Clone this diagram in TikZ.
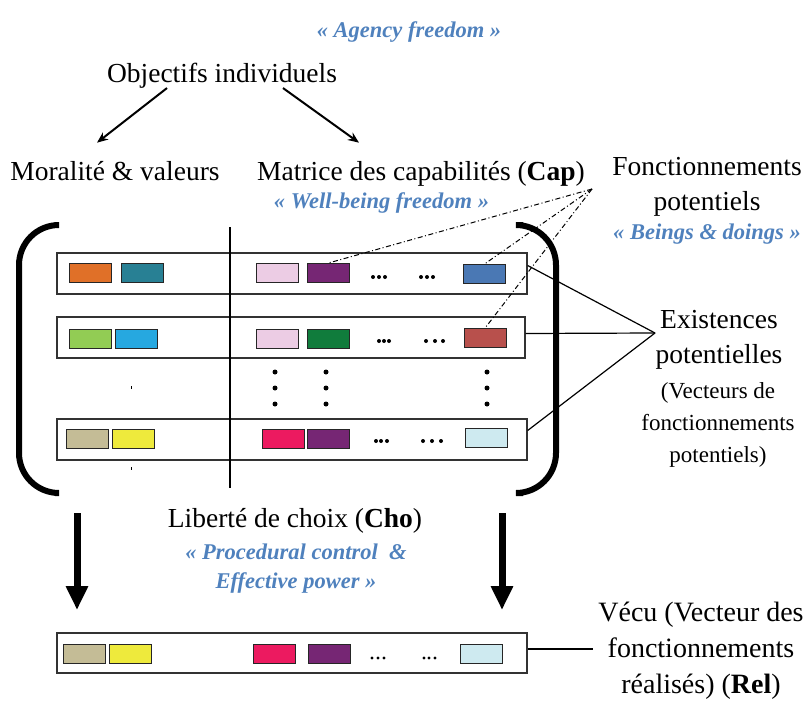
\documentclass[tikz,border=0pt]{standalone}
\usepackage{fontspec}
\setmainfont{Liberation Serif}
\usetikzlibrary{arrows, arrows.meta}
\definecolor{quoteblue}{RGB}{79,129,189}
\definecolor{corange}{RGB}{224,112,40}
\definecolor{cteal}{RGB}{40,128,148}
\definecolor{cpink}{RGB}{236,204,228}
\definecolor{cpurple}{RGB}{118,38,116}
\definecolor{cblue}{RGB}{74,120,180}
\definecolor{clgreen}{RGB}{146,204,84}
\definecolor{csky}{RGB}{38,168,224}
\definecolor{cdgreen}{RGB}{16,124,60}
\definecolor{cred}{RGB}{184,80,76}
\definecolor{ctan}{RGB}{196,188,150}
\definecolor{cyellow}{RGB}{238,234,60}
\definecolor{cmagenta}{RGB}{236,26,96}
\definecolor{clcyan}{RGB}{206,234,240}
\tikzstyle{lbl} = [inner sep=0pt, align=center, font=\fontsize{27.5}{35}\selectfont]
\tikzstyle{smalllbl} = [inner sep=0pt, align=center, font=\fontsize{23}{32}\selectfont]
\tikzstyle{quotetxt} = [inner sep=0pt, align=center, text=quoteblue, font=\fontsize{22.5}{29}\selectfont\bfseries\itshape]
\tikzstyle{vecrow} = [rectangle, draw=black!80, line width=1.3pt, minimum width=470pt, minimum height=41pt, inner sep=0pt]
\tikzstyle{cellbox} = [rectangle, draw=black!85, line width=1pt, minimum width=42pt, minimum height=19pt, inner sep=0pt]
\tikzstyle{arrow} = [line width=2pt,->,>={Stealth[length=11pt,width=9pt]}]
\tikzstyle{bigarrow} = [line width=7pt,-{Triangle[width=21pt,length=24pt]}]
\tikzstyle{bigparen} = [line width=6pt, rounded corners=40pt]
\tikzstyle{link} = [line width=1.2pt]
\tikzstyle{dlink} = [line width=1pt, dash pattern=on 5pt off 2.5pt on 1pt off 2.5pt]

\begin{document}
\begin{tikzpicture}[x=1pt,y=-1pt]
    \useasboundingbox (0,0) rectangle (804,704);

    % texts at the top
    \node [quotetxt, anchor=base] at (409,37.5) (agency) {« Agency freedom »};
    \node [lbl, anchor=base] at (222,82) (obj) {Objectifs individuels};
    \node [lbl, anchor=base] at (115,180) (mor) {Moralité \& valeurs};
    \node [lbl, anchor=base] at (421,180) (mat) {Matrice des capabilités (\textbf{Cap})};
    \node [quotetxt, anchor=base] at (381.5,208) (wellbeing) {« Well-being freedom »};
    \node [lbl, anchor=base] at (707,210) (fonct) {Fonctionnements\\potentiels};
    \node [quotetxt, anchor=base] at (707,239) (beings) {« Beings \& doings »};

    \draw [arrow] ([xshift=-55pt]obj.south) -- ([xshift=-18pt,yshift=18pt]mor.north);
    \draw [arrow] ([xshift=61pt]obj.south) -- ([xshift=-62pt,yshift=18pt]mat.north);

    % the matrix
    \node [vecrow] at (292,273.5) (r1) {};
    \node [vecrow, minimum width=468pt] at (291,337.5) (r2) {};
    \node [vecrow] at (292,439.5) (r3) {};

    \node [cellbox, fill=corange] at (90.5,273) (c11) {};
    \node [cellbox, fill=cteal] at (142,273) (c12) {};
    \node [cellbox, fill=cpink] at (277,273) (c13) {};
    \node [cellbox, fill=cpurple] at (328.5,273) (c14) {};
    \node [cellbox, fill=cblue] at (484.5,274) (c15) {};

    \node [cellbox, fill=clgreen] at (90.5,338.5) (c21) {};
    \node [cellbox, fill=csky] at (136,338.5) (c22) {};
    \node [cellbox, fill=cpink] at (277,338.5) (c23) {};
    \node [cellbox, fill=cdgreen] at (328.5,338.5) (c24) {};
    \node [cellbox, fill=cred] at (485.5,337.5) (c25) {};

    \node [cellbox, fill=ctan] at (87.5,439) (c31) {};
    \node [cellbox, fill=cyellow] at (133,439) (c32) {};
    \node [cellbox, fill=cmagenta] at (283,439) (c33) {};
    \node [cellbox, fill=cpurple] at (328.5,439) (c34) {};
    \node [cellbox, fill=clcyan] at (486.5,437.5) (c35) {};

    \foreach \x in {373,379,385,421,427,433} \fill (\x,277) circle (2pt);
    \foreach \x in {379,384,389,426,435,443} \fill (\x,341) circle (2pt);
    \foreach \x in {376,381,387,423,432,441} \fill (\x,441) circle (2pt);
    \foreach \x in {275,326,487}
        \foreach \y in {372,388,404} \fill (\x,\y) circle (2.5pt);
    \fill (130.5,386) rectangle (131.5,389);
    \fill (130.5,467) rectangle (131.5,470);

    \draw [line width=2pt] (230,227) -- (230,488);
    \draw [bigparen] (55,225) -- (19,225) -- (19,493) -- (55,493);
    \draw [bigparen] (523,225) -- (556,225) -- (556,493) -- (523,493);

    % links to the labels on the right
    \coordinate (capend) at (592,189);
    \draw [dlink] (capend) -- (c14.north);
    \draw [dlink] (capend) -- (c15.north);
    \draw [dlink] (capend) -- (c25.north);

    \node [lbl, anchor=base] at (719,363) (ex1) {Existences\\potentielles};
    \node [smalllbl, anchor=base] at (718,462) (ex2) {(Vecteurs de\\fonctionnements\\potentiels)};
    \coordinate (exi) at (655,333);
    \draw [link] ([yshift=8pt]r1.east) -- (exi);
    \draw [link] ([yshift=4pt]r2.east) -- (exi);
    \draw [link] ([yshift=9pt]r3.east) -- (exi);

    % choice and realised vector
    \node [lbl, anchor=base] at (295,527) (cho) {Liberté de choix (\textbf{Cho})};
    \node [quotetxt, anchor=base] at (296,588) (proc) {« Procedural control\ \ \&\\Effective power »};
    \coordinate (la) at (77,513);
    \coordinate (lb) at (77,610);
    \coordinate (ra) at (502,513);
    \coordinate (rb) at (502,610);
    \draw [bigarrow] (la) -- (lb);
    \draw [bigarrow] (ra) -- (rb);

    \node [vecrow, minimum height=40pt] at (292,653) (rel) {};
    \node [cellbox, fill=ctan] at (84,653.5) (c41) {};
    \node [cellbox, fill=cyellow] at (130,653.5) (c42) {};
    \node [cellbox, fill=cmagenta] at (274,653.5) (c43) {};
    \node [cellbox, fill=cpurple] at (329,653.5) (c44) {};
    \node [cellbox, fill=clcyan] at (481,654) (c45) {};
    \foreach \x in {372,378,384,424,429,435} \fill (\x,658) circle (1.7pt);

    \node [lbl, anchor=base, font=\fontsize{28}{36}\selectfont] at (701,693) (vecu) {Vécu (Vecteur des\\fonctionnements\\réalisés) (\textbf{Rel})};
    \coordinate (vecuend) at (593,649);
    \draw [link] ([yshift=4pt]rel.east) -- (vecuend);
\end{tikzpicture}
\end{document}
